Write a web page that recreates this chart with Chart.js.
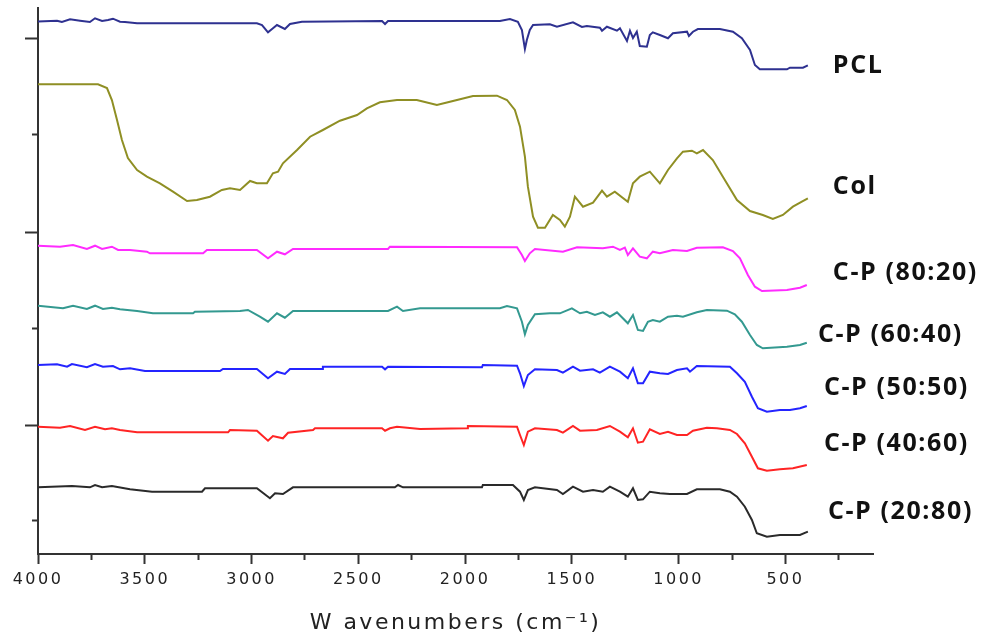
<!DOCTYPE html>
<html>
<head>
<meta charset="utf-8">
<title>FTIR spectra</title>
<script src="https://cdn.jsdelivr.net/npm/chart.js@4.4.1/dist/chart.umd.min.js"></script>
<style>
  html, body { margin: 0; padding: 0; background: #fff; }
  #wrap { width: 986px; height: 641px; }
</style>
</head>
<body>
<div id="wrap"><canvas id="chart" width="986" height="641"></canvas></div>
<script>
// wavenumber (cm-1) vs transmittance, curves offset vertically (arbitrary units)
const pcl = [[4000,532.5],[3911,533.3],[3888,532],[3850,534.7],[3803,533.3],[3757,532],[3733,535.7],[3700,533],[3672,534],[3649,535.3],[3616,532.3],[3593,532],[3536,530.7],[2975,530.7],[2951,529],[2923,521.7],[2904,525],[2881,529],[2844,525],[2820,530],[2764,532.3],[2389,533],[2375,530],[2361,533],[1837,533],[1790,535],[1753,532.3],[1734,524],[1720,505],[1711,514],[1697,524],[1682,529],[1603,529.7],[1570,527.3],[1495,531.7],[1453,527],[1430,528],[1369,526.3],[1359,523.3],[1336,527.3],[1289,523.3],[1275,525.7],[1242,513],[1228,523.3],[1214,516],[1196,522.3],[1182,508],[1149,507.3],[1135,519],[1121,521.7],[1088,519],[1050,515.7],[1027,520.7],[961,522.3],[952,518],[933,522.3],[910,525],[807,525],[746,522.3],[704,515.7],[666,504],[643,489],[620,484.7],[493,484.7],[479,486.3],[418,486.3],[395,488.7]];

const col = [[4000,469.7],[3719,469.7],[3677,466],[3654,454],[3630,434],[3607,414],[3579,396],[3536,384],[3490,377.3],[3429,370.7],[3368,362.3],[3302,353],[3256,354],[3195,357.3],[3139,364],[3101,365.7],[3054,364],[3007,373],[2975,370.7],[2928,370.7],[2900,380.7],[2876,382.3],[2853,390.7],[2787,404],[2726,417.3],[2666,424],[2586,433.3],[2506,439],[2460,445.7],[2399,451.7],[2319,454],[2226,454],[2132,449],[2057,453],[1963,458],[1851,458.3],[1804,454],[1767,444],[1743,427.3],[1720,397.3],[1706,367.3],[1682,337.3],[1659,326.3],[1626,326.3],[1589,339],[1556,334],[1533,327.3],[1509,337.3],[1486,357.3],[1448,347.3],[1401,351.3],[1359,363.3],[1336,357.3],[1299,362.3],[1238,352.3],[1214,370.7],[1182,377.3],[1135,382.3],[1088,370.7],[1050,384],[1008,395.7],[980,402.3],[938,403.3],[915,400.7],[886,404],[840,394],[793,377.3],[727,354],[666,343],[606,339],[559,335],[512,339],[465,347.3],[423,352.3],[395,355.7]];

const cp8020 = [[4000,308.3],[3897,307.3],[3836,309],[3771,305],[3733,308.3],[3700,305],[3654,307.3],[3625,304],[3569,304],[3490,302.3],[3476,300.7],[3227,300.7],[3209,304],[2975,304],[2923,295.7],[2881,302.3],[2844,299.7],[2806,305],[2361,305],[2352,307.3],[1757,306.7],[1734,299],[1720,293],[1697,300.7],[1673,305],[1542,302.3],[1476,306.7],[1355,305.7],[1308,307.3],[1275,304],[1252,306.3],[1238,299],[1214,305.7],[1182,297.3],[1149,295.7],[1121,302.3],[1088,300.7],[1027,304],[961,303],[915,306.3],[793,306.7],[746,303],[713,295.7],[676,279],[643,267.3],[610,263],[493,264],[432,266.3],[400,269]];

const cp6040 = [[4000,248.3],[3883,245.7],[3836,248.3],[3771,245],[3733,248.3],[3696,245],[3654,246.3],[3616,244.7],[3536,243],[3462,240.7],[3274,240.7],[3265,242.3],[3054,243],[3017,244],[2961,237.3],[2923,232.3],[2881,240.7],[2844,236.3],[2806,243],[2361,243],[2319,247.3],[2291,243],[2211,245.7],[1837,245.7],[1804,248],[1757,245.7],[1734,232.3],[1720,219.7],[1706,229],[1673,239.7],[1603,240.7],[1556,240.7],[1500,245.7],[1462,240.7],[1430,242.3],[1392,239],[1355,241.7],[1322,237.3],[1289,241.7],[1238,230.7],[1214,239],[1191,224],[1167,223],[1144,232.3],[1121,234],[1088,232.3],[1050,237.3],[1008,238.3],[980,237.3],[915,241.7],[868,244],[774,243.3],[737,239.7],[704,232.3],[666,219],[634,209],[606,205.7],[493,207.3],[432,209],[400,211.3]];

const cp5050 = [[4000,189],[3911,189.7],[3864,187.3],[3841,190],[3771,186.7],[3733,190],[3696,187.3],[3649,188],[3616,184.7],[3569,185.7],[3499,183],[3148,183],[3134,185],[2975,185],[2923,175.7],[2881,182.3],[2844,180],[2820,185],[2670,185],[2666,187.3],[2389,187.3],[2375,184.7],[2361,187.3],[1921,186.7],[1917,189],[1757,188.3],[1743,180.7],[1725,168],[1706,179],[1673,184.7],[1570,184],[1542,181.3],[1495,187.3],[1462,183.3],[1401,184.7],[1369,181.3],[1322,187.3],[1275,182.3],[1238,175.7],[1214,185.7],[1191,170.7],[1167,170.7],[1135,182.3],[1088,180.7],[1050,180],[1008,184],[961,185.7],[947,182.3],[915,188],[760,187.3],[727,180.7],[690,172.3],[657,157.3],[629,145.7],[587,142.3],[526,144],[479,144],[432,145.7],[400,148]];

const cp4060 = [[4000,127.3],[3897,126.3],[3850,128],[3780,124],[3733,127.3],[3686,124.7],[3654,125.7],[3616,124],[3536,121.7],[3110,121.7],[3101,124],[2975,123.3],[2923,113.3],[2900,118],[2853,115.7],[2829,121.3],[2712,124],[2703,125.7],[2389,125.7],[2375,123.3],[2352,125.7],[2319,127.3],[2211,125],[1991,125.7],[1987,128],[1757,127.3],[1743,119],[1725,109],[1706,122.3],[1673,125.7],[1570,124],[1542,121.3],[1495,128],[1462,123.3],[1383,124],[1322,128],[1275,122.3],[1238,116.7],[1214,125.7],[1191,111.3],[1167,112.3],[1135,124.7],[1088,120],[1050,122.3],[1008,119],[961,119],[933,123.3],[868,126.3],[821,125.7],[760,124],[727,120],[690,110.7],[657,97.3],[629,85.7],[587,83.3],[526,84.7],[465,85.7],[400,89]];

const cp2080 = [[4000,66.7],[3841,68],[3757,66.7],[3733,69],[3700,66.7],[3654,68],[3569,64.7],[3466,62.3],[3232,62.3],[3218,65.7],[2975,65.7],[2914,55.7],[2890,60.7],[2853,60],[2806,66.7],[2329,66.7],[2314,69],[2291,66.7],[1921,66.7],[1917,69],[1776,69],[1743,62.3],[1725,54],[1706,64],[1673,66.7],[1570,64],[1542,60],[1495,67.3],[1448,62.3],[1401,64],[1355,62.3],[1322,67.3],[1275,62.3],[1238,57.3],[1214,65.7],[1191,54],[1167,54.7],[1135,62.3],[1088,60.7],[1041,60],[961,60],[915,64.7],[807,64.7],[760,62.3],[727,57.3],[690,47.3],[657,34],[634,20.7],[587,17.3],[526,19],[432,19],[395,22.3]];

const seriesNames = ['PCL', 'Col', 'C-P (80:20)', 'C-P (60:40)', 'C-P (50:50)', 'C-P (40:60)', 'C-P (20:80)'];
const seriesData = [pcl, col, cp8020, cp6040, cp5050, cp4060, cp2080];

const xMajorTicks = [4000, 3500, 3000, 2500, 2000, 1500, 1000, 500];
const xMinorTicks = [3750, 3250, 2750, 2250, 1750, 1250, 750, 250];
const yMajorTicks = [516, 322, 129];
const yMinorTicks = [419, 226, 34];

// styling kept apart from the data
const lineColors = ['#2e3190', '#8f8f24', '#ff2bff', '#339990', '#2424ff', '#ff2424', '#2a2a2a'];
// where each curve's name sits: [wavenumber of left edge, vertical value]
const labelSpots = [[278, 488], [278, 367], [278, 281], [348, 219], [320, 166], [320, 110], [301, 42]];

const axisColor = '#333';

const curveLabels = {
    id: 'curveLabels',
    beforeDraw(chart) {
        // the axis text in the original is widely spaced
        chart.ctx.letterSpacing = '2.5px';
    },
    afterDraw(chart) {
        const ctx = chart.ctx;
        const xs = chart.scales.x;
        const ys = chart.scales.y;
        ctx.save();
        ctx.letterSpacing = '1.6px';
        ctx.font = 'bold 25px "Open Sans"';
        ctx.fillStyle = '#111';
        ctx.textAlign = 'left';
        ctx.textBaseline = 'middle';
        seriesNames.forEach((name, i) => {
            const [wn, v] = labelSpots[i];
            ctx.fillText(name, xs.getPixelForValue(wn), ys.getPixelForValue(v));
        });
        ctx.restore();
        ctx.letterSpacing = '0px';
    }
};

const tickOnly = (len) => ({
    drawOnChartArea: false,
    drawTicks: true,
    tickLength: len,
    tickWidth: 2,
    tickColor: axisColor
});

new Chart(document.getElementById('chart'), {
    type: 'line',
    data: {
        datasets: seriesData.map((d, i) => ({
            label: seriesNames[i],
            data: d.map(p => ({ x: p[0], y: p[1] })),
            borderColor: lineColors[i],
            borderWidth: 2,
            pointRadius: 0,
            tension: 0,
            fill: false
        }))
    },
    options: {
        responsive: false,
        animation: false,
        devicePixelRatio: 1,
        layout: { padding: { left: 0, right: 113, top: 8, bottom: 0 } },
        plugins: {
            legend: { display: false },
            tooltip: { enabled: false }
        },
        scales: {
            x: {
                type: 'linear',
                position: 'bottom',
                reverse: true,
                min: 90,
                max: 4000,
                weight: 1,
                afterBuildTicks: s => { s.ticks = xMajorTicks.map(v => ({ value: v })); },
                afterFit: s => { s.height = 87; },
                ticks: {
                    autoSkip: false,
                    maxRotation: 0,
                    padding: 6,
                    color: '#222',
                    font: { family: 'DejaVu Sans', size: 16 },
                    callback: v => String(v)
                },
                grid: tickOnly(10),
                border: { display: true, color: axisColor, width: 2 },
                title: {
                    display: true,
                    text: 'W avenumbers (cm\u207B\u00B9)',
                    color: '#222',
                    font: { family: 'DejaVu Sans', size: 22 },
                    padding: { top: 0, bottom: 5 }
                }
            },
            x2: {
                type: 'linear',
                axis: 'x',
                position: 'bottom',
                reverse: true,
                min: 90,
                max: 4000,
                weight: 0,
                afterBuildTicks: s => { s.ticks = xMinorTicks.map(v => ({ value: v })); },
                afterFit: s => { s.height = 0; },
                ticks: { display: false },
                grid: tickOnly(6),
                border: { display: false }
            },
            y: {
                type: 'linear',
                position: 'left',
                min: 0,
                max: 546,
                weight: 1,
                afterBuildTicks: s => { s.ticks = yMajorTicks.map(v => ({ value: v })); },
                afterFit: s => { s.width = 38; },
                ticks: { display: false },
                grid: tickOnly(13),
                border: { display: true, color: axisColor, width: 2 }
            },
            y2: {
                type: 'linear',
                axis: 'y',
                position: 'left',
                min: 0,
                max: 546,
                weight: 0,
                afterBuildTicks: s => { s.ticks = yMinorTicks.map(v => ({ value: v })); },
                afterFit: s => { s.width = 0; },
                ticks: { display: false },
                grid: tickOnly(6),
                border: { display: false }
            }
        }
    },
    plugins: [curveLabels]
});
</script>
</body>
</html>
